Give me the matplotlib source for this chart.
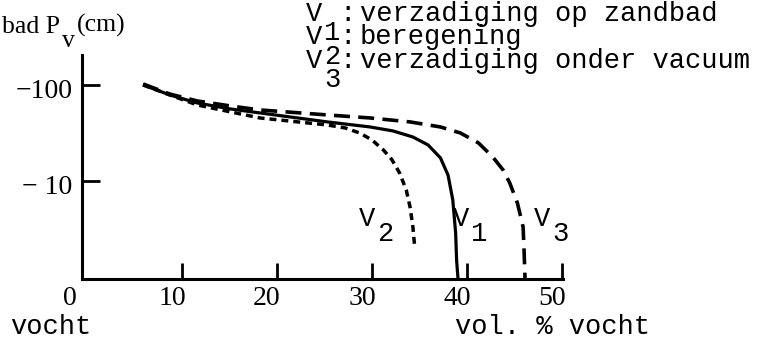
import matplotlib
matplotlib.use("Agg")
import matplotlib.pyplot as plt
from matplotlib.transforms import ScaledTranslation

plt.rcParams["lines.scale_dashes"] = False

# Moisture retention curves: volumetric moisture (%) versus suction |P_v| (cm)
v1_moisture = [5.9, 8.7, 11.6, 15.1, 18.2, 25.3, 29.8, 32.2, 34.3, 35.9, 37.2, 38.0, 38.5, 38.8, 38.9, 39.05]
v1_suction = [100, 78.7, 64.9, 56.2, 51.1, 41.2, 36.5, 33.2, 28.7, 23.7, 17.4, 11.5, 6.34, 2.87, 1.5, 0.955]

v2_moisture = [5.9, 8.7, 11.6, 15.1, 18.2, 25.3, 27.2, 28.7, 30.0, 31.2, 32.1, 32.9, 33.6, 34.0, 34.3, 34.5]
v2_suction = [100, 78.7, 61.9, 52.4, 45.3, 38.3, 35.6, 31.6, 26.7, 21.0, 16.6, 12.1, 8.06, 5.36, 3.32, 2.0]

v3_moisture = [5.9, 8.7, 11.6, 15.1, 18.2, 25.3, 29.8, 34.0, 37.2, 39.3, 41.2, 42.7, 43.8, 44.5, 45.3, 45.9, 46.0, 46.1]
v3_suction = [102.4, 80.5, 68.1, 60.4, 54.9, 48.7, 45.3, 41.2, 36.5, 31.6, 24.9, 17.8, 13.0, 9.5, 5.9, 3.32, 1.91, 0.976]

x_ticks = [0, 10, 20, 30, 40, 50]
x_tick_labels = ["0", "10", "20", "30", "40", "50"]
y_ticks = [100, 10]
y_tick_labels = ["\u2212100", "\u2212 10"]

legend_keys = ["1", "2", "3"]
legend_texts = ["verzadiging op zandbad", "beregening", "verzadiging onder vacuum"]

W, H = 779, 341
fig = plt.figure(figsize=(W / 100, H / 100), dpi=100)
fig.patch.set_facecolor("white")


def fx(px):
    return px / W


def fy(py):
    return 1 - py / H


ax = fig.add_axes([fx(82), fy(279), fx(563) - fx(82), fy(55) - fy(279)])
ax.set_yscale("log")
ax.set_xlim(-0.53, 50.1)
ax.set_ylim(0.953, 205)
ax.patch.set_alpha(0)

ink = "black"
ax.plot(v1_moisture, v1_suction, color=ink, lw=2.3, solid_capstyle="butt", solid_joinstyle="round")
ax.plot(v2_moisture, v2_suction, color=ink, lw=2.5, linestyle=(0, (5.0, 3.6)), dash_capstyle="butt")
ax.plot(v3_moisture, v3_suction, color=ink, lw=2.6, linestyle=(0, (11.5, 6.0)), dash_capstyle="butt")

for side in ("top", "right"):
    ax.spines[side].set_visible(False)
for side in ("left", "bottom"):
    ax.spines[side].set_linewidth(2.2)

serif = "Liberation Serif"
mono = "Liberation Mono"
serif_size = 20
mono_size = 19.5

ax.set_xticks(x_ticks)
ax.set_xticklabels(x_tick_labels, family=serif, fontsize=serif_size)
ax.set_yticks(y_ticks)
ax.set_yticklabels(y_tick_labels, family=serif, fontsize=serif_size)
ax.yaxis.set_minor_locator(matplotlib.ticker.NullLocator())
ax.tick_params(axis="x", direction="in", length=11.5, width=2.0, pad=5)
ax.tick_params(axis="y", direction="in", length=13, width=2.0, pad=7)
ax.xaxis.get_major_ticks()[0].tick1line.set_visible(False)

for i, lab in enumerate(ax.get_xticklabels()):
    shift = -0.17 if i == 0 else -0.10
    lab.set_transform(lab.get_transform() + ScaledTranslation(shift, 0, fig.dpi_scale_trans))
for lab in ax.get_yticklabels():
    lab.set_transform(lab.get_transform() + ScaledTranslation(0, -0.04, fig.dpi_scale_trans))

# axis title with typewriter-style lowered subscript
title_size = 18.5
fig.text(fx(60), fy(33), "bad P", family=serif, fontsize=title_size, ha="right", va="baseline")
fig.text(fx(68), fy(47), "v", family=serif, fontsize=title_size, ha="center", va="baseline")
fig.text(fx(77), fy(32), "(cm)", family=serif, fontsize=title_size, ha="left", va="baseline")

# legend block
for i, (key, txt) in enumerate(zip(legend_keys, legend_texts)):
    base = 21 + 23.5 * i
    fig.text(fx(314), fy(base), "V", family=mono, fontsize=mono_size, ha="center", va="baseline")
    fig.text(fx(332), fy(base + 19), key, family=mono, fontsize=mono_size, ha="center", va="baseline")
    fig.text(fx(348), fy(base), ":", family=mono, fontsize=mono_size, ha="center", va="baseline")
    fig.text(fx(360), fy(base), txt, family=mono, fontsize=mono_size, ha="left", va="baseline")

# curve labels
curve_labels = [("2", 367, 385), ("1", 461, 479), ("3", 542, 560)]
for key, vx, sx in curve_labels:
    fig.text(fx(vx), fy(226), "V", family=mono, fontsize=mono_size, ha="center", va="baseline")
    fig.text(fx(sx), fy(241), key, family=mono, fontsize=mono_size, ha="center", va="baseline")

# axis captions
fig.text(fx(10), fy(334), "vocht", family=mono, fontsize=mono_size, ha="left", va="baseline")
fig.text(fx(455), fy(334), "vol. % vocht", family=mono, fontsize=mono_size, ha="left", va="baseline")

fig.savefig("out.png", dpi=100, facecolor="white")
